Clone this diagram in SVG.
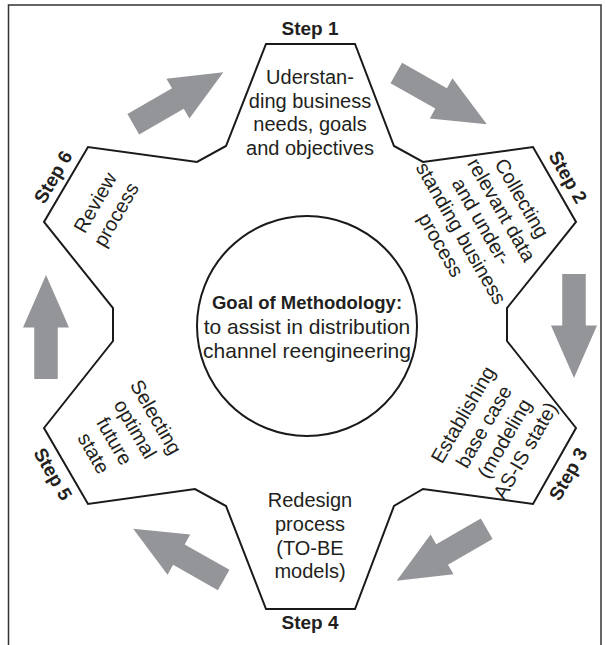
<svg xmlns="http://www.w3.org/2000/svg" width="606" height="645" viewBox="0 0 606 645">
<style>
.t{font-family:"Liberation Sans",Arial,sans-serif;font-size:20px;fill:#231f20;text-anchor:middle}
.c{font-size:21px}
.b{font-family:"Liberation Sans",Arial,sans-serif;font-weight:bold;font-size:19px;fill:#231f20;text-anchor:middle}
.gb{font-size:18.5px}
.ln{fill:none;stroke:#1a1a1a;stroke-width:2;stroke-linejoin:miter}
.ar{fill:#939598}
</style>
<defs>
<polygon id="arrow" class="ar" points="-11.75,0 11.75,0 11.75,51.5 23,51.5 0,104 -23,51.5 -11.75,51.5"/>
</defs>
<rect width="606" height="645" fill="#fff"/>
<path d="M8.5,645 V5 H601 V645" fill="none" stroke="#333" stroke-width="1.5"/>

<g id="outline">
<polygon class="ln" points="266,44 355,44 394,146 423,162 533,147 576,222 507,308 507,341 576,428 533,504 423,489 394,506 355,609 266,609 226,506 195,489 88,504 44,428 113,341 113,308 44,222 88,147 197,162 226,146"/>
</g>

<g id="connectors">
<use href="#arrow" transform="translate(133.3,124.3) rotate(-120)"/>
<use href="#arrow" transform="translate(396.3,73) rotate(-60.5)"/>
<use href="#arrow" transform="translate(574,274)"/>
<use href="#arrow" transform="translate(486.7,528.7) rotate(60)"/>
<use href="#arrow" transform="translate(223.7,580) rotate(119.5)"/>
<use href="#arrow" transform="translate(46,379) rotate(180)"/>
</g>

<g id="goal">
<circle class="ln" cx="307" cy="326" r="110"/>
<text class="b gb" x="307" y="309">Goal of Methodology:</text>
<text class="t c" x="307" y="334">to assist in distribution</text>
<text class="t c" x="307" y="358">channel reengineering</text>
</g>

<g id="step1">
<text class="b" x="310" y="35">Step 1</text>
<text class="t" x="310" y="84">Uderstan-</text>
<text class="t" x="310" y="107.5">ding business</text>
<text class="t" x="310" y="131">needs, goals</text>
<text class="t" x="310" y="154.5">and objectives</text>
</g>

<g id="step2">
<text class="b" transform="translate(568,177) rotate(60)" dy="0.35em">Step 2</text>
<g transform="translate(481.5,221.5) rotate(60)">
<text class="t" y="-46.8" dy="0.35em">Collecting</text>
<text class="t" y="-23.4" dy="0.35em">relevant data</text>
<text class="t" y="0" dy="0.35em">and under-</text>
<text class="t" y="23.4" dy="0.35em">standing business</text>
<text class="t" y="46.8" dy="0.35em">process</text>
</g>
</g>

<g id="step3">
<text class="b" transform="translate(568,474) rotate(-60)" dy="0.35em">Step 3</text>
<g transform="translate(494,432.5) rotate(-60)">
<text class="t" y="-36" dy="0.35em">Establishing</text>
<text class="t" y="-12" dy="0.35em">base case</text>
<text class="t" y="12" dy="0.35em">(modeling</text>
<text class="t" y="36" dy="0.35em">AS-IS state)</text>
</g>
</g>

<g id="step4">
<text class="t" x="310" y="507">Redesign</text>
<text class="t" x="310" y="531">process</text>
<text class="t" x="310" y="554.5">(TO-BE</text>
<text class="t" x="310" y="578">models)</text>
<text class="b" x="310" y="629">Step 4</text>
</g>

<g id="step5">
<text class="b" transform="translate(53,474) rotate(60)" dy="0.35em">Step 5</text>
<g transform="translate(125,435) rotate(60)">
<text class="t" y="-36" dy="0.35em">Selecting</text>
<text class="t" y="-12" dy="0.35em">optimal</text>
<text class="t" y="12" dy="0.35em">future</text>
<text class="t" y="36" dy="0.35em">state</text>
</g>
</g>

<g id="step6">
<text class="b" transform="translate(53,177) rotate(-60)" dy="0.35em">Step 6</text>
<g transform="translate(105.5,208.5) rotate(-60)">
<text class="t" y="-12" dy="0.35em">Review</text>
<text class="t" y="12" dy="0.35em">process</text>
</g>
</g>
</svg>
